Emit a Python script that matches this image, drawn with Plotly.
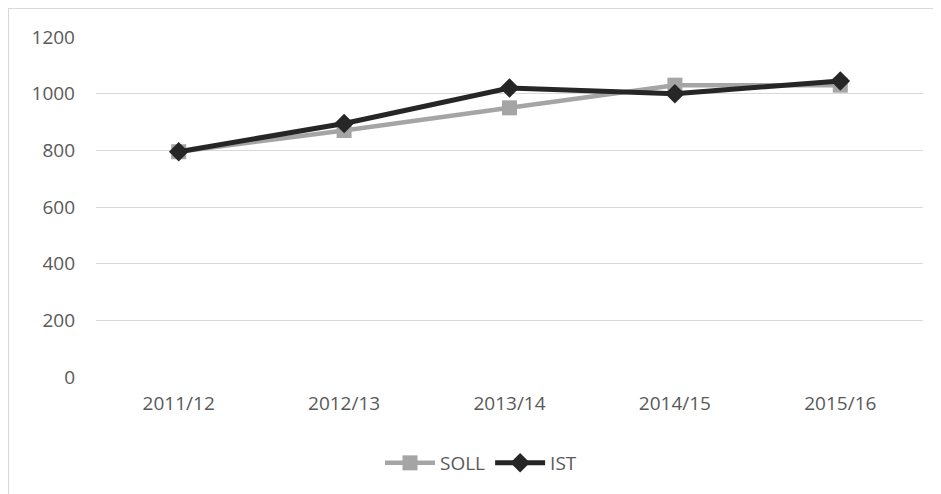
import plotly.graph_objects as go

categories = ["2011/12", "2012/13", "2013/14", "2014/15", "2015/16"]
soll = [795, 870, 950, 1030, 1030]
ist = [795, 895, 1020, 1000, 1045]
y_ticks = [0, 200, 400, 600, 800, 1000, 1200]

W, H = 941, 494
# plot area in figure pixels (page is offset by the 8px body margin)
L, R, T, B = 88, 915, 29, 369
pw, ph = R - L, B - T

def px(x):
    return (x - L) / pw

def py(y):
    return (B - y) / ph

FONT = "Open Sans, Liberation Sans, sans-serif"
TXT = "#595959"
FS = 19

fig = go.Figure()
fig.add_trace(go.Scatter(
    x=categories, y=soll, name="SOLL", mode="lines+markers",
    line=dict(color="#A5A5A5", width=4.5),
    marker=dict(symbol="square", size=15, color="#A5A5A5"),
))
fig.add_trace(go.Scatter(
    x=categories, y=ist, name="IST", mode="lines+markers",
    line=dict(color="#262626", width=5),
    marker=dict(symbol="diamond", size=15, color="#262626"),
))

fig.update_layout(
    width=W, height=H,
    margin=dict(l=L, r=W - R, t=T, b=H - B, autoexpand=False),
    paper_bgcolor="white", plot_bgcolor="white",
    font=dict(family=FONT, size=FS, color=TXT),
    showlegend=True,
    legend=dict(orientation="h", x=px(473), xanchor="center", y=py(455), yanchor="middle",
                font=dict(family=FONT, size=FS, color=TXT), itemwidth=50, tracegroupgap=0),
    xaxis=dict(showgrid=False, showline=False, zeroline=False, ticks="",
               tickfont=dict(family=FONT, size=FS, color=TXT), range=[-0.5, 4.5],
               ticklabelstandoff=13),
    yaxis=dict(range=[0, 1200], tickvals=y_ticks, showgrid=True, gridcolor="#D9D9D9",
               gridwidth=1, zeroline=False, showline=False, ticks="",
               tickfont=dict(family=FONT, size=FS, color=TXT), ticklabelstandoff=20),
    shapes=[dict(type="rect", xref="paper", yref="paper",
                 x0=px(0.5), x1=px(W + 20), y0=py(H + 20), y1=py(0.5),
                 line=dict(color="#D9D9D9", width=1.2), layer="below")],
)

fig.write_html("out.html")
